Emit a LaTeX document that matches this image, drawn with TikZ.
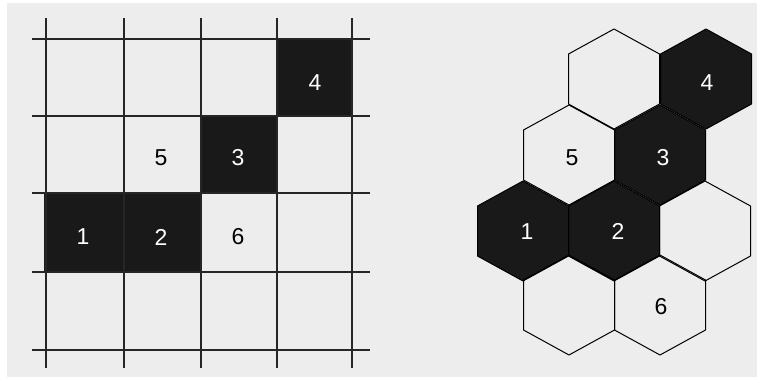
\documentclass[tikz,border=0pt]{standalone}
\usepackage{fontspec}
\setmainfont{Liberation Sans}
\begin{document}
\begin{tikzpicture}[x=1pt,y=-1pt,
  gridline/.style={line width=1.7pt,black!85},
  blackcell/.style={fill=black!90},
  hexline/.style={line width=1pt,black},
  lbl/.style={font=\fontsize{23}{23}\selectfont},
  lblw/.style={lbl,text=white},
  lblb/.style={lbl,text=black}]
\useasboundingbox (0,0) rectangle (757,381);
\fill[white] (0,0) rectangle (757,381);
\fill[black!7] (7,3) rectangle (757,377);
% ---------- square grid ----------
\fill[blackcell] (277,39) rectangle (352,116);
\fill[blackcell] (201,116) rectangle (277,193);
\fill[blackcell] (44,193) rectangle (201,272);
\foreach \x in {46,124,201,277,352} \draw[gridline] (\x,18) -- (\x,368);
\foreach \y in {39,116,193,272,350} \draw[gridline] (32,\y) -- (370,\y);
\node[lblw] (s4) at (315,83) {4};
\node[lblb] (s5) at (161,158) {5};
\node[lblw] (s3) at (238,158) {3};
\node[lblw] (s1) at (83,237) {1};
\node[lblw] (s2) at (161,237) {2};
\node[lblb] (s6) at (238,237) {6};
% ---------- hex grid ----------
\def\hw{45.5}\def\hh{50}
\newcommand\hexpath[2]{(#1,#2-\hh) -- (#1+\hw,#2-\hh/2) -- (#1+\hw,#2+\hh/2) -- (#1,#2+\hh) -- (#1-\hw,#2+\hh/2) -- (#1-\hw,#2-\hh/2) -- cycle}
% black hexes
\foreach \cx/\cy in {706/79,660/155,523/231,614/231}
  \fill[blackcell] \hexpath{\cx}{\cy};
% outlines
\foreach \cx/\cy in {614/79,706/79,569/155,660/155,523/231,614/231,705/231,569/305,660/305}
  \draw[hexline,line join=round] \hexpath{\cx}{\cy};
\node[lblw] (h4) at (707,83) {4};
\node[lblb] (h5) at (572,158) {5};
\node[lblw] (h3) at (663,158) {3};
\node[lblw] (h1) at (527,232) {1};
\node[lblw] (h2) at (618,231) {2};
\node[lblb] (h6) at (661,307) {6};
\end{tikzpicture}
\end{document}
